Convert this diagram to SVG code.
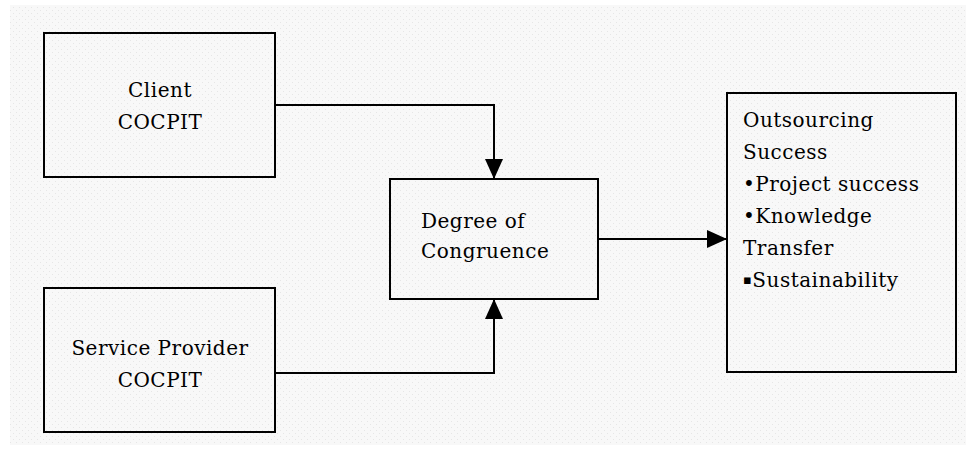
<svg xmlns="http://www.w3.org/2000/svg" width="972" height="459" viewBox="0 0 972 459">
<defs>
<pattern id="dots" width="6" height="6" patternUnits="userSpaceOnUse">
<rect width="6" height="6" fill="#f8f8f8"/>
<rect x="1" y="1" width="1" height="1" fill="#e6e6e6"/>
<rect x="4" y="4" width="1" height="1" fill="#e6e6e6"/>
</pattern>
<marker id="arr" viewBox="0 0 20 20" refX="20" refY="10" markerWidth="20" markerHeight="20" markerUnits="userSpaceOnUse" orient="auto">
<path d="M0,1 L20,10 L0,19 Z" fill="#000"/>
</marker>
</defs>
<style>
.box{fill:none;stroke:#000;stroke-width:2}
.t{font-family:'DejaVu Serif',serif;font-size:20px;letter-spacing:0.5px;fill:#000}
.c{text-anchor:middle}
.ln{fill:none;stroke:#000;stroke-width:2}
.sq{font-size:13px}
</style>
<rect width="972" height="459" fill="#fff"/>
<rect x="10" y="5" width="956" height="440" fill="url(#dots)"/>
<g id="connectors">
<polyline class="ln" points="275,105 494,105 494,179" marker-end="url(#arr)"/>
<polyline class="ln" points="275,373 494,373 494,299" marker-end="url(#arr)"/>
<line class="ln" x1="598" y1="239" x2="727" y2="239" marker-end="url(#arr)"/>
</g>
<g id="client">
<rect class="box" x="44" y="33" width="231" height="144"/>
<text class="t c" x="160" y="97">Client</text>
<text class="t c" x="160" y="129">COCPIT</text>
</g>
<g id="provider">
<rect class="box" x="44" y="288" width="231" height="144"/>
<text class="t c" x="160" y="355">Service Provider</text>
<text class="t c" x="160" y="387">COCPIT</text>
</g>
<g id="congruence">
<rect class="box" x="390" y="179" width="208" height="120"/>
<text class="t" x="421" y="228">Degree of</text>
<text class="t" x="421" y="258">Congruence</text>
</g>
<g id="success">
<rect class="box" x="727" y="93" width="229" height="279"/>
<text class="t" x="743" y="127">Outsourcing</text>
<text class="t" x="743" y="159">Success</text>
<text class="t" x="743" y="191">•Project success</text>
<text class="t" x="743" y="223">•Knowledge</text>
<text class="t" x="743" y="255">Transfer</text>
<text class="t" x="743" y="287"><tspan class="sq" dy="-3">▪</tspan><tspan dy="3">Sustainability</tspan></text>
</g>
</svg>
